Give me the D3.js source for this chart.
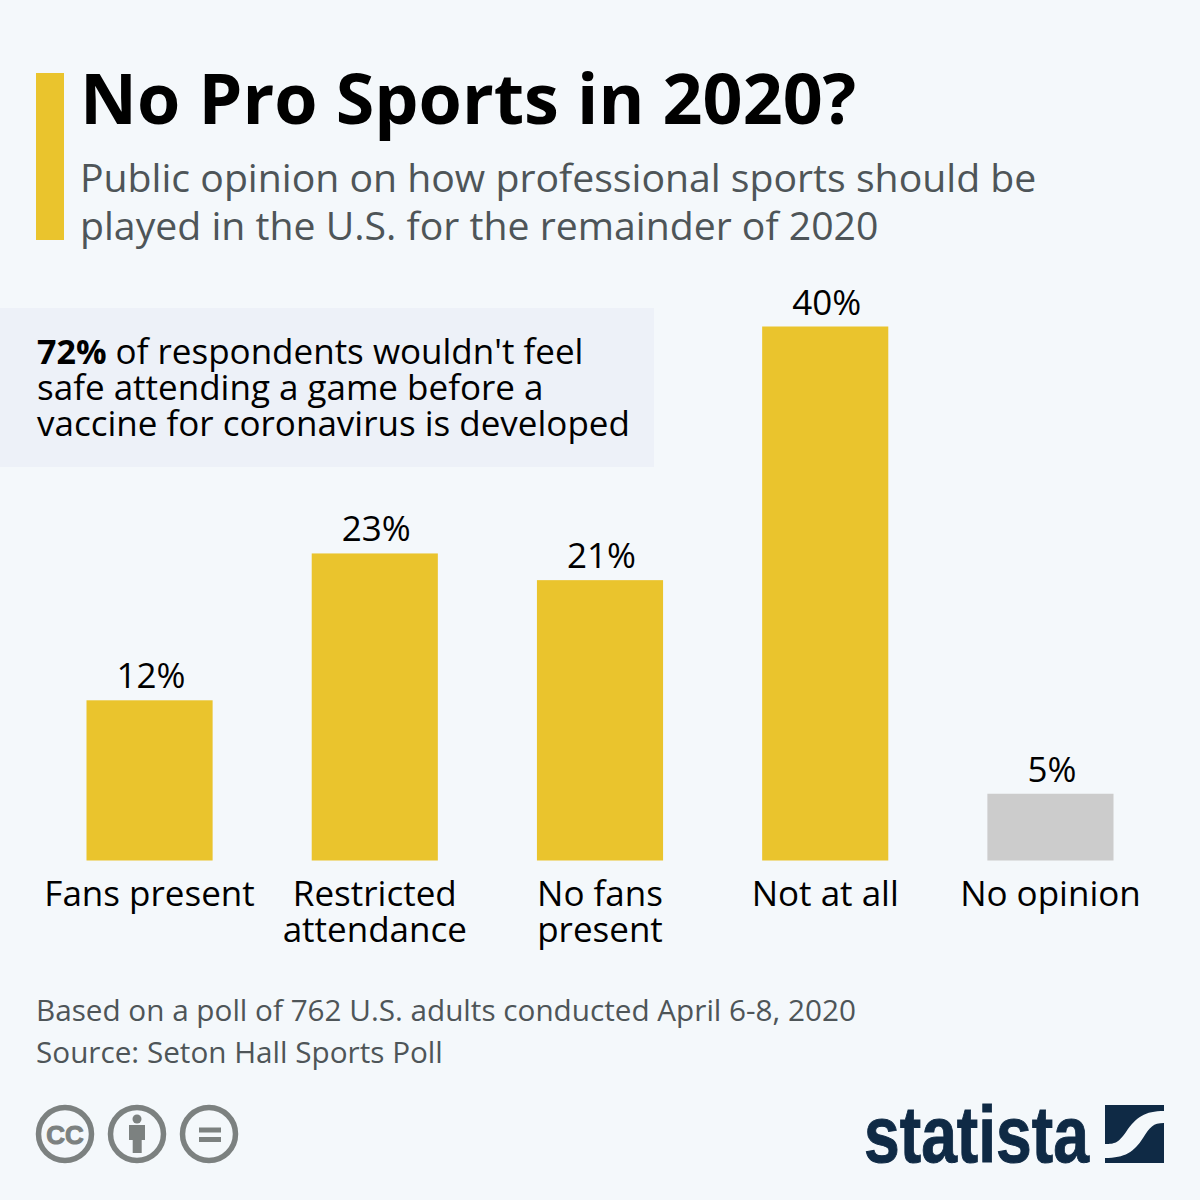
<!DOCTYPE html>
<html>
<head>
<meta charset="utf-8">
<script src="https://cdn.jsdelivr.net/npm/d3@7"></script>
<style>
  html, body { margin: 0; padding: 0; background: #f4f8fb; }
  svg { display: block; font-family: "Open Sans", sans-serif; }
</style>
</head>
<body>
<svg width="1200" height="1200"></svg>
<script>
const categories = ["Fans present", "Restricted attendance", "No fans present", "Not at all", "No opinion"];
const categoryLines = [["Fans present"], ["Restricted", "attendance"], ["No fans", "present"], ["Not at all"], ["No opinion"]];
const values = [12, 23, 21, 40, 5];
const barColors = ["#eac42d", "#eac42d", "#eac42d", "#eac42d", "#cccccc"];

const title = "No Pro Sports in 2020?";
const subtitle = ["Public opinion on how professional sports should be", "played in the U.S. for the remainder of 2020"];
const note = ["Based on a poll of 762 U.S. adults conducted April 6-8, 2020", "Source: Seton Hall Sports Poll"];

const svg = d3.select("svg");
svg.append("rect").attr("width", 1200).attr("height", 1200).attr("fill", "#f4f8fb");

// header
svg.append("rect").attr("x", 36).attr("y", 73).attr("width", 28).attr("height", 167).attr("fill", "#eac42d");
svg.append("text").text(title)
  .attr("x", 80).attr("y", 124)
  .attr("font-size", 70).attr("font-weight", 700).attr("fill", "#000");
svg.selectAll(".sub").data(subtitle).enter().append("text")
  .attr("class", "sub")
  .text((d) => d)
  .attr("x", 80).attr("y", (d, i) => 192 + i * 48)
  .attr("font-size", 39.2).attr("fill", "#4e5558");

// scales
const xScale = d3.scaleBand().domain(categories).range([86.5, 1113.5]).paddingInner(0.44);
const yScale = d3.scaleLinear().domain([0, 40]).range([860.5, 326.5]);

// callout box
svg.append("rect").attr("x", 0).attr("y", 308).attr("width", 654).attr("height", 159).attr("fill", "#edf1f8");
const callout = svg.append("g").attr("font-size", 35).attr("fill", "#000");
const first = callout.append("text").attr("x", 37).attr("y", 364);
first.append("tspan").attr("font-weight", 700).attr("font-size", 34).text("72%");
first.append("tspan").text(" of respondents wouldn't feel");
callout.append("text").attr("x", 37).attr("y", 400).text("safe attending a game before a");
callout.append("text").attr("x", 37).attr("y", 436).text("vaccine for coronavirus is developed");

// bars
svg.selectAll(".bar").data(values).enter().append("rect")
  .attr("class", "bar")
  .attr("x", (d, i) => xScale(categories[i]))
  .attr("y", (d) => yScale(d))
  .attr("width", xScale.bandwidth())
  .attr("height", (d) => yScale(0) - yScale(d))
  .attr("fill", (d, i) => barColors[i]);

// value labels
svg.selectAll(".val").data(values).enter().append("text")
  .attr("class", "val")
  .text((d) => d + "%")
  .attr("x", (d, i) => xScale(categories[i]) + xScale.bandwidth() / 2 + 1.5)
  .attr("y", (d) => yScale(d) - 12)
  .attr("text-anchor", "middle")
  .attr("font-size", 35).attr("fill", "#000");

// category labels
categoryLines.forEach((lines, i) => {
  svg.selectAll(".cat" + i).data(lines).enter().append("text")
    .attr("class", "cat" + i)
    .text((d) => d)
    .attr("x", xScale(categories[i]) + xScale.bandwidth() / 2)
    .attr("y", (d, j) => 906 + j * 36)
    .attr("text-anchor", "middle")
    .attr("font-size", 35).attr("fill", "#000");
});

// notes
svg.selectAll(".note").data(note).enter().append("text")
  .attr("class", "note")
  .text((d) => d)
  .attr("x", 36).attr("y", (d, i) => 1021 + i * 42)
  .attr("font-size", 29.7).attr("fill", "#4e5558");

// cc icons
const grey = "#7c8180";
const icons = svg.append("g").attr("fill", "none").attr("stroke", grey).attr("stroke-width", 5.5);
[65, 137, 209].forEach((cx) => icons.append("circle").attr("cx", cx).attr("cy", 1134).attr("r", 26.5));
svg.append("text").text("CC").attr("x", 65).attr("y", 1143.5)
  .attr("text-anchor", "middle").attr("font-size", 26).attr("font-weight", 700)
  .attr("font-family", "Liberation Sans")
  .attr("stroke", grey).attr("stroke-width", 1).attr("fill", grey);
svg.append("circle").attr("cx", 137).attr("cy", 1119).attr("r", 4.5).attr("fill", grey);
svg.append("path").attr("d", "M129 1125H145V1140H141.7V1153H132.7V1140H129Z").attr("fill", grey);
svg.append("rect").attr("x", 199).attr("y", 1127.5).attr("width", 22).attr("height", 5).attr("fill", grey);
svg.append("rect").attr("x", 199).attr("y", 1137).attr("width", 22).attr("height", 5).attr("fill", grey);

// statista logo
const navy = "#0f2a45";
svg.append("text").text("statista")
  .attr("x", 864).attr("y", 1162)
  .attr("font-family", "Liberation Sans")
  .attr("font-weight", 700).attr("font-size", 80)
  .attr("textLength", 225).attr("lengthAdjust", "spacingAndGlyphs")
  .attr("stroke", navy).attr("stroke-width", 1)
  .attr("fill", navy);
svg.append("path").attr("fill", navy)
  .attr("d", "M1105 1105H1164V1111C1145 1111 1136 1117 1126 1132C1118 1143 1115 1144 1105 1144Z");
svg.append("path").attr("fill", navy)
  .attr("d", "M1164 1123V1163H1105V1158C1125 1158 1134 1152 1143 1138C1150 1127 1153 1123 1164 1123Z");
</script>
</body>
</html>
